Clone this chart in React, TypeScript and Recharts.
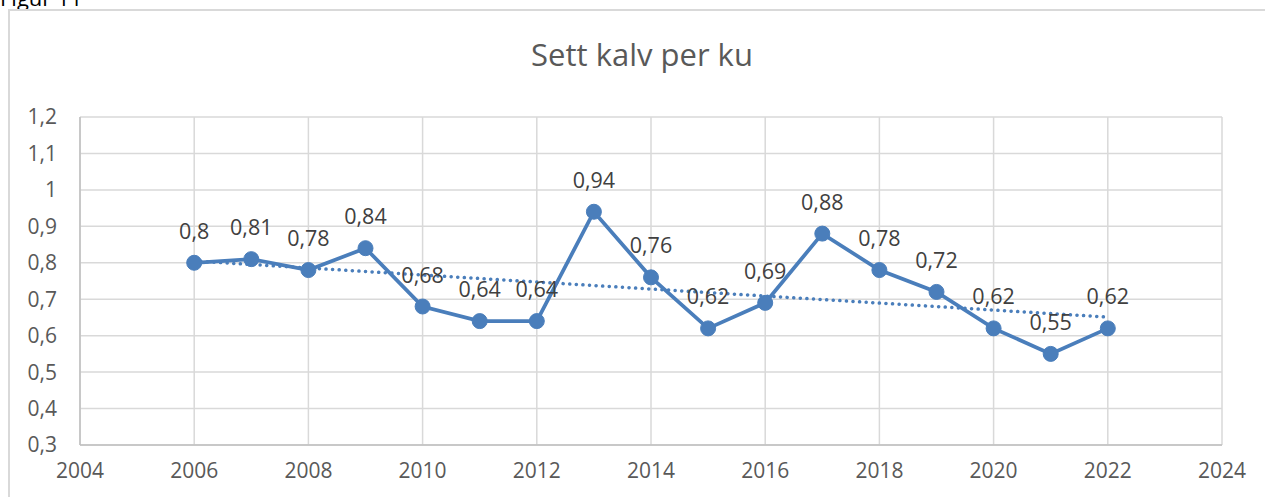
import { LineChart, Line, XAxis, YAxis, CartesianGrid, LabelList } from "recharts";

const years = [2006, 2007, 2008, 2009, 2010, 2011, 2012, 2013, 2014, 2015, 2016, 2017, 2018, 2019, 2020, 2021, 2022];
const calves = [0.8, 0.81, 0.78, 0.84, 0.68, 0.64, 0.64, 0.94, 0.76, 0.62, 0.69, 0.88, 0.78, 0.72, 0.62, 0.55, 0.62];

// linear trendline ends
const trendYears = [2006, 2022];
const trendValues = [0.805, 0.651];

const xTicks = [2004, 2006, 2008, 2010, 2012, 2014, 2016, 2018, 2020, 2022, 2024];
const yTicks = [0.3, 0.4, 0.5, 0.6, 0.7, 0.8, 0.9, 1, 1.1, 1.2];

const data = years.map((year, i) => {
  const t = trendYears.indexOf(year);
  return { year, value: calves[i], trend: t >= 0 ? trendValues[t] : null };
});

const comma = (v: number) => String(v).replace(".", ",");
const blue = "#4a7ebb";
const font = "'Open Sans', sans-serif";

export default function App() {
  return (
    <div style={{ position: "absolute", left: 0, top: 0, width: 1265, height: 497, overflow: "hidden", background: "#fff", fontFamily: font }}>
      <div style={{ position: "absolute", left: 0, top: -14, fontSize: 22, lineHeight: "22px", color: "#000" }}>Figur 11</div>
      <div style={{ position: "absolute", left: 8, top: 9, width: 1400, height: 700, border: "2px solid #d9d9d9" }} />
      <div style={{ position: "absolute", left: 0, top: 34, width: 1284, textAlign: "center", fontSize: 31, lineHeight: "40px", color: "#595959" }}>
        Sett kalv per ku
      </div>
      <div style={{ position: "absolute", left: 0, top: 0 }}>
        <LineChart width={1265} height={497} data={data} margin={{ top: 117, right: 43, bottom: 0, left: 10 }}>
          <CartesianGrid stroke="#d9d9d9" strokeWidth={1.5} />
          <XAxis
            dataKey="year"
            type="number"
            domain={[2004, 2024]}
            ticks={xTicks}
            interval={0}
            height={52}
            tickSize={0}
            tickMargin={18}
            axisLine={{ stroke: "#bfbfbf", strokeWidth: 1.5 }}
            tick={{ fontSize: 21, fill: "#595959", fontFamily: font }}
          />
          <YAxis
            type="number"
            domain={[0.3, 1.2]}
            ticks={yTicks}
            interval={0}
            width={70}
            tickSize={0}
            tickMargin={23}
            tickFormatter={comma}
            axisLine={{ stroke: "#bfbfbf", strokeWidth: 1.5 }}
            tick={{ fontSize: 21, fill: "#595959", fontFamily: font }}
          />
          <Line
            dataKey="trend"
            stroke={blue}
            strokeWidth={3.5}
            strokeDasharray="0.1 6.5"
            strokeLinecap="round"
            dot={false}
            activeDot={false}
            connectNulls
            isAnimationActive={false}
          />
          <Line
            dataKey="value"
            stroke={blue}
            strokeWidth={3.75}
            dot={{ r: 7.5, fill: blue, stroke: blue, strokeWidth: 1 }}
            activeDot={false}
            isAnimationActive={false}
          >
            <LabelList dataKey="value" position="top" offset={24} formatter={(v: number) => comma(v)} fill="#404040" fontSize={21.5} fontFamily={font} />
          </Line>
        </LineChart>
      </div>
    </div>
  );
}
